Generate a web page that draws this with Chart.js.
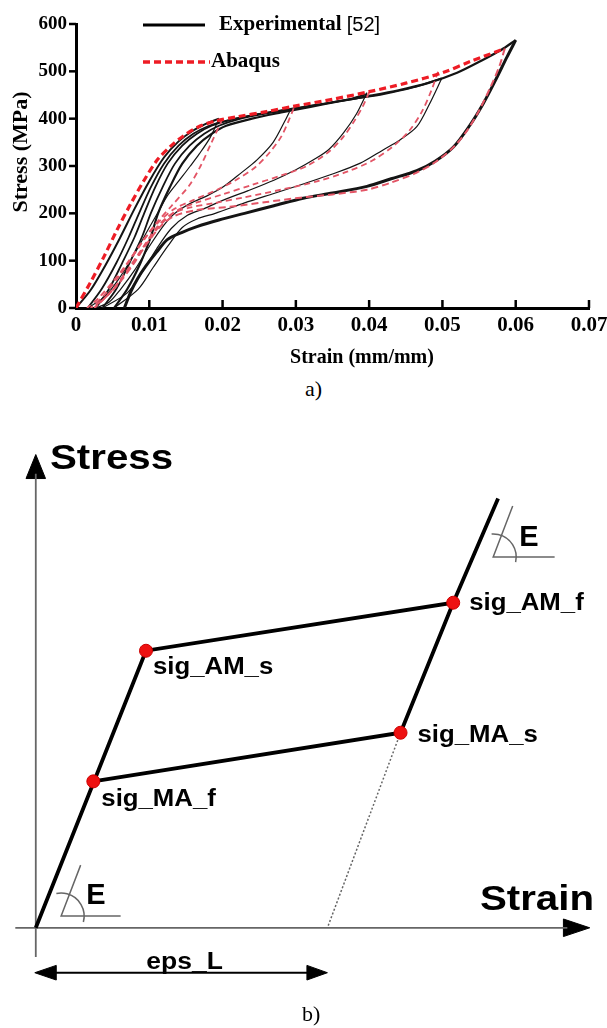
<!DOCTYPE html>
<html><head><meta charset="utf-8">
<script src="https://cdn.jsdelivr.net/npm/chart.js@4.4.0/dist/chart.umd.min.js"></script>
<style>
html,body{margin:0;padding:0;background:#fff;width:607px;height:1028px;overflow:hidden;position:relative}
#ca{position:absolute;left:0;top:0}
#cb{position:absolute;left:0;top:400px}
.cap{position:absolute;font-family:'Liberation Serif','Times New Roman',serif;font-size:22px;color:#000;line-height:22px}
</style></head><body>
<canvas id="ca" width="620" height="375"></canvas>
<div class="cap" style="left:305px;top:378px">a)</div>
<canvas id="cb" width="607" height="628"></canvas>
<div class="cap" style="left:302px;top:1003px">b)</div>
<script>
// ---------- Panel a data (strain mm/mm, stress MPa) ----------
const xTicks = [0, 0.01, 0.02, 0.03, 0.04, 0.05, 0.06, 0.07];
const xTickLabels = ['0', '0.01', '0.02', '0.03', '0.04', '0.05', '0.06', '0.07'];
const yTicks = [0, 100, 200, 300, 400, 500, 600];
const yTickLabels = ['0', '100', '200', '300', '400', '500', '600'];
const xTitle = 'Strain (mm/mm)';
const yTitle = 'Stress (MPa)';
const seriesNames = ['Experimental [52]', 'Abaqus'];

// Experimental (black) curves
const expLoad1 = [[0,0],[0.002,38],[0.004,90],[0.006,148],[0.008,210],[0.010,268],[0.012,318],[0.014,352],[0.016,375],[0.018,391],[0.0195,400]];
const expUnload1 = [[0.0195,400],[0.0183,360],[0.0168,325],[0.0156,300],[0.014,268],[0.0125,238],[0.0113,205],[0.010,170],[0.008,115],[0.006,65],[0.004,25],[0.0016,0]];
const expReload2 = [[0.0016,0],[0.0035,40],[0.0055,95],[0.0072,150],[0.0086,200],[0.0102,255],[0.012,305],[0.014,343],[0.016,368],[0.018,384],[0.020,394],[0.023,404],[0.026,412],[0.0293,420]];
const expUnload2 = [[0.0293,420],[0.0285,395],[0.0269,350],[0.0247,313],[0.0225,285],[0.0201,256],[0.018,238],[0.0156,221],[0.0135,200],[0.012,175],[0.010,130],[0.008,80],[0.006,38],[0.0045,12],[0.0027,0]];
const expReload3 = [[0.0027,0],[0.0045,40],[0.0063,95],[0.008,150],[0.0093,200],[0.0108,255],[0.0125,305],[0.0145,343],[0.0165,368],[0.0185,385],[0.021,397],[0.025,410],[0.029,420],[0.033,430],[0.037,440],[0.0397,452]];
const expUnload3 = [[0.0397,455],[0.0383,411],[0.0365,370],[0.0345,335],[0.0324,313],[0.030,292],[0.027,270],[0.0235,248],[0.0201,228],[0.0175,210],[0.0152,196],[0.013,168],[0.011,125],[0.009,75],[0.007,32],[0.0036,0]];
const expReload4 = [[0.0036,0],[0.0055,40],[0.0073,95],[0.009,150],[0.0102,200],[0.0118,255],[0.0135,305],[0.0155,343],[0.0175,368],[0.0195,385],[0.022,398],[0.026,411],[0.030,421],[0.034,432],[0.038,442],[0.042,452],[0.046,466],[0.0499,485]];
const expUnload4 = [[0.0499,485],[0.0482,430],[0.0465,383],[0.0442,355],[0.0419,334],[0.0388,306],[0.035,283],[0.031,262],[0.027,242],[0.023,222],[0.019,200],[0.0165,188],[0.0145,170],[0.0125,130],[0.0105,85],[0.0085,40],[0.0052,0]];
const expReload5 = [[0.0052,0],[0.007,40],[0.0088,95],[0.0102,150],[0.0112,200],[0.0128,255],[0.0145,305],[0.0165,343],[0.0185,368],[0.0205,385],[0.024,400],[0.028,413],[0.032,425],[0.036,437],[0.040,448],[0.044,460],[0.048,475],[0.052,497],[0.0555,524],[0.058,545],[0.060,566]];
const expUnload5 = [[0.060,566],[0.0588,530],[0.0572,480],[0.0555,430],[0.0537,385],[0.0515,340],[0.049,310],[0.0465,290],[0.043,273],[0.0397,257],[0.035,243],[0.031,232],[0.027,216],[0.023,200],[0.0195,186],[0.0165,172],[0.0145,160],[0.0125,145],[0.011,118],[0.0095,88],[0.0084,62],[0.0075,35],[0.0066,0]];

// Abaqus (red dashed) curves
const abqLoad = [[0,0],[0.002,55],[0.0038,108],[0.0056,165],[0.0075,221],[0.0093,270],[0.0111,313],[0.013,343],[0.0147,364],[0.0166,382],[0.019,395],[0.022,404],[0.026,415],[0.030,427],[0.035,441],[0.040,457],[0.045,475],[0.050,497],[0.054,522],[0.0585,548]];
const abqUnload1 = [[0.020,400],[0.0185,350],[0.017,300],[0.0155,260],[0.013,215],[0.011,180],[0.009,140],[0.007,95],[0.005,55],[0.003,20],[0.0015,0]];
const abqUnload2 = [[0.0297,422],[0.0290,395],[0.0280,362],[0.0265,330],[0.0245,298],[0.022,272],[0.019,248],[0.016,228],[0.0135,210],[0.0115,185],[0.0098,155],[0.008,115],[0.006,70],[0.004,30],[0.002,0]];
const abqUnload3 = [[0.040,456],[0.0392,428],[0.0381,398],[0.0365,362],[0.0345,330],[0.0315,300],[0.028,280],[0.024,260],[0.020,240],[0.0165,223],[0.0138,206],[0.0118,180],[0.010,145],[0.008,100],[0.006,58],[0.004,22],[0.0025,0]];
const abqUnload4 = [[0.0494,499],[0.0485,460],[0.0472,415],[0.0455,375],[0.0433,342],[0.0405,312],[0.037,288],[0.033,268],[0.028,250],[0.023,234],[0.019,222],[0.0155,212],[0.013,198],[0.011,170],[0.009,125],[0.007,80],[0.005,38],[0.0025,0]];
const abqUnload5 = [[0.0585,548],[0.0578,512],[0.0566,468],[0.0551,420],[0.0535,378],[0.0517,343],[0.0492,310],[0.0465,286],[0.043,265],[0.0397,250],[0.035,240],[0.0306,233],[0.026,224],[0.021,214],[0.0165,207],[0.0135,195],[0.0115,172],[0.0095,132],[0.0078,92],[0.006,55],[0.004,22],[0.0022,0]];

// ---------- Panel b data (schematic strain %, stress MPa) ----------
const bLoadStrain = [0, 1.13, 4.28, 4.74];
const bLoadStress = [0, 473, 555, 733];
const bUnloadStrain = [4.28, 3.74, 0.59];
const bUnloadStress = [555, 333, 250];
const bRecoverStrain = [3.74, 2.99];
const bRecoverStress = [333, 0];
const criticalLabels = ['sig_MA_f', 'sig_AM_s', 'sig_MA_s', 'sig_AM_f'];
const criticalStrain = [0.59, 1.13, 3.74, 4.28];
const criticalStress = [250, 473, 333, 555];
const epsL = 2.99;
const bAxisTitles = ['Stress', 'Strain'];
const modulusLabel = 'E';
const epsLabel = 'eps_L';

const toXY = a => a.map(p => ({x: p[0], y: p[1]}));
const zipXY = (xs, ys) => xs.map((v, i) => ({x: v, y: ys[i]}));

// ---------- Panel a ----------
const SERIF = '"Liberation Serif","Times New Roman",serif';
const black = '#141414';
const redMain = '#ee1c25';
const redLight = '#e35566';
const blk = (d, w) => ({label: seriesNames[0], data: toXY(d), borderColor: black, borderWidth: w, showLine: true, pointRadius: 0, fill: false});
const red = (d, w, c, dash) => ({label: seriesNames[1], data: toXY(d), borderColor: c, borderWidth: w, borderDash: dash, showLine: true, pointRadius: 0, fill: false});

const dsA = [
  red(abqLoad, 3.2, redMain, [7, 4]),
  red(abqUnload1, 1.8, redLight, [6, 4]),
  red(abqUnload2, 1.8, redLight, [6, 4]),
  red(abqUnload3, 1.8, redLight, [6, 4]),
  red(abqUnload4, 1.8, redLight, [6, 4]),
  red(abqUnload5, 2.0, redLight, [7, 4]),
  blk(expLoad1, 2.0),
  blk(expUnload1, 1.2),
  blk(expReload2, 1.8),
  blk(expUnload2, 1.2),
  blk(expReload3, 1.8),
  blk(expUnload3, 1.2),
  blk(expReload4, 1.8),
  blk(expUnload4, 1.2),
  blk(expReload5, 2.2),
  blk(expUnload5, 3.0)
];

const decorA = {
  id: 'decorA',
  afterDraw(chart) {
    const {ctx, scales: {x, y}, chartArea: ca} = chart;
    ctx.save();
    ctx.strokeStyle = '#000';
    ctx.lineWidth = 2.5;
    xTicks.forEach(v => {
      if (v === 0) return;
      const px = x.getPixelForValue(v);
      ctx.beginPath(); ctx.moveTo(px, ca.bottom); ctx.lineTo(px, ca.bottom - 8); ctx.stroke();
    });
    yTicks.forEach(v => {
      const py = y.getPixelForValue(v);
      ctx.beginPath(); ctx.moveTo(ca.left, py); ctx.lineTo(ca.left - 7, py); ctx.stroke();
    });
    ctx.fillStyle = '#000';
    ctx.textAlign = 'center'; ctx.textBaseline = 'middle';
    ctx.font = 'bold 20px ' + SERIF;
    ctx.fillText(xTitle, 362, 358);
    ctx.save();
    ctx.translate(21, 152); ctx.rotate(-Math.PI / 2);
    ctx.font = 'bold 22px ' + SERIF;
    ctx.fillText(yTitle, 0, 0);
    ctx.restore();
    // legend
    ctx.lineWidth = 3; ctx.strokeStyle = '#000';
    ctx.beginPath(); ctx.moveTo(143, 25); ctx.lineTo(205, 25); ctx.stroke();
    ctx.strokeStyle = redMain; ctx.lineWidth = 3.5; ctx.setLineDash([7, 4]);
    ctx.beginPath(); ctx.moveTo(143, 62); ctx.lineTo(210, 62); ctx.stroke();
    ctx.setLineDash([]);
    ctx.textAlign = 'left';
    const parts = seriesNames[0].split(' [');
    ctx.font = 'bold 21px ' + SERIF;
    ctx.fillText(parts[0], 219, 25);
    const w = ctx.measureText(parts[0] + ' ').width;
    ctx.font = '20px "Liberation Sans",Arial,sans-serif';
    ctx.fillText('[' + parts[1], 219 + w, 25);
    ctx.font = 'bold 21px ' + SERIF;
    ctx.fillText(seriesNames[1], 211, 62);
    ctx.restore();
  }
};

new Chart(document.getElementById('ca'), {
  type: 'scatter',
  data: {datasets: dsA},
  options: {
    responsive: false, animation: false, devicePixelRatio: 1,
    layout: {padding: {left: 0, right: 31, top: 24, bottom: 0}},
    plugins: {legend: {display: false}, tooltip: {enabled: false}},
    elements: {line: {tension: 0.3}, point: {radius: 0}},
    scales: {
      x: {
        type: 'linear', min: 0, max: 0.07,
        afterBuildTicks: s => { s.ticks = xTicks.map(v => ({value: v})); },
        afterFit: s => { s.height = 67; },
        ticks: {callback: (v, i) => xTickLabels[i], font: {family: SERIF, size: 21, weight: 'bold'}, color: '#000', padding: 5, maxRotation: 0, autoSkip: false},
        grid: {display: false, drawTicks: false},
        border: {display: true, width: 3, color: '#000'}
      },
      y: {
        type: 'linear', min: 0, max: 600,
        afterBuildTicks: s => { s.ticks = yTicks.map(v => ({value: v})); },
        afterFit: s => { s.width = 76; },
        ticks: {callback: (v, i) => yTickLabels[i], font: {family: SERIF, size: 19, weight: 'bold'}, color: '#000', padding: 9, autoSkip: false},
        grid: {display: false, drawTicks: false},
        border: {display: true, width: 3, color: '#000'}
      }
    }
  },
  plugins: [decorA]
});

// ---------- Panel b ----------
const SANS = '"Liberation Sans",Arial,Helvetica,sans-serif';
const gray = '#666';
const lineDs = (data, color, width, extra) => Object.assign({data, borderColor: color, borderWidth: width, showLine: true, pointRadius: 0, fill: false, tension: 0}, extra || {});
const triDs = (data, color) => ({data, borderColor: color, backgroundColor: color, borderWidth: 1, showLine: true, pointRadius: 0, fill: 'shape', tension: 0});

const yEps = -76.7;
const dsB = [
  {data: zipXY(criticalStrain, criticalStress), showLine: false, pointRadius: 6.5, pointBackgroundColor: '#ee1111', pointBorderColor: '#cc0000', pointBorderWidth: 1},
  lineDs(zipXY(bLoadStrain, bLoadStress), '#000', 3.8),
  lineDs(zipXY(bUnloadStrain, bUnloadStress), '#000', 3.8),
  lineDs(zipXY(bRecoverStrain, bRecoverStress), gray, 1.5, {borderDash: [2, 2]}),
  // axes
  lineDs([{x: -0.21, y: 0}, {x: 5.45, y: 0}], gray, 1.8),
  lineDs([{x: 0, y: -50}, {x: 0, y: 775}], gray, 1.8),
  triDs([{x: 5.41, y: 15}, {x: 5.68, y: 0}, {x: 5.41, y: -15}, {x: 5.41, y: 15}], '#000'),
  triDs([{x: -0.1, y: 767}, {x: 0, y: 808}, {x: 0.1, y: 767}, {x: -0.1, y: 767}], '#000'),
  // eps_L dimension arrow
  lineDs([{x: 0.1, y: yEps}, {x: 2.9, y: yEps}], '#000', 2),
  triDs([{x: 0.21, y: yEps + 12.5}, {x: -0.01, y: yEps}, {x: 0.21, y: yEps - 12.5}, {x: 0.21, y: yEps + 12.5}], '#000'),
  triDs([{x: 2.78, y: yEps + 12.5}, {x: 2.99, y: yEps}, {x: 2.78, y: yEps - 12.5}, {x: 2.78, y: yEps + 12.5}], '#000'),
  // modulus angle marks
  lineDs([{x: 4.89, y: 720}, {x: 4.69, y: 633}, {x: 5.32, y: 633}], gray, 1.5),
  lineDs([{x: 0.46, y: 107}, {x: 0.26, y: 20}, {x: 0.87, y: 20}], gray, 1.5)
];

function stretchText(ctx, text, x, y, font, align, sx, base) {
  ctx.save();
  ctx.font = font;
  ctx.textBaseline = base || 'alphabetic';
  const w = ctx.measureText(text).width * sx;
  let left = x;
  if (align === 'center') left = x - w / 2;
  if (align === 'right') left = x - w;
  ctx.translate(left, y);
  ctx.scale(sx, 1);
  ctx.textAlign = 'left';
  ctx.fillText(text, 0, 0);
  ctx.restore();
}

const decorB = {
  id: 'decorB',
  afterDatasetsDraw(chart) {
    const {ctx, scales: {x, y}} = chart;
    ctx.save();
    ctx.fillStyle = '#000';
    // angle arcs
    ctx.strokeStyle = gray; ctx.lineWidth = 1.5;
    const arcs = [[4.69, 633, 0.22, -1.64], [0.26, 20, 0.26, -1.78]];
    arcs.forEach(a => {
      const cx = x.getPixelForValue(a[0]), cy = y.getPixelForValue(a[1]);
      ctx.beginPath(); ctx.arc(cx, cy, 23, a[2], a[3], true); ctx.stroke();
    });
    // E labels
    ctx.font = 'bold 29px ' + SANS;
    ctx.textBaseline = 'alphabetic';
    ctx.textAlign = 'left';
    ctx.fillText(modulusLabel, x.getPixelForValue(4.69) + 26, y.getPixelForValue(633) - 11);
    ctx.fillText(modulusLabel, x.getPixelForValue(0.26) + 25, y.getPixelForValue(20) - 12);
    // axis titles
    stretchText(ctx, bAxisTitles[0], 50, 59, 'bold 35px ' + SANS, 'left', 1.15, 'middle');
    stretchText(ctx, bAxisTitles[1], 594, 500, 'bold 35px ' + SANS, 'right', 1.15, 'middle');
    // eps_L
    stretchText(ctx, epsLabel, x.getPixelForValue(epsL / 2) + 3, 569, 'bold 23px ' + SANS, 'center', 1.15);
    // critical point labels
    const offs = [[8, 25], [7, 23], [17, 9], [16, 7]];
    criticalLabels.forEach((t, i) => {
      const px = x.getPixelForValue(criticalStrain[i]) + offs[i][0];
      const py = y.getPixelForValue(criticalStress[i]) + offs[i][1];
      stretchText(ctx, t, px, py, 'bold 23px ' + SANS, 'left', 1.12);
    });
    ctx.restore();
  }
};

new Chart(document.getElementById('cb'), {
  type: 'scatter',
  data: {datasets: dsB},
  options: {
    responsive: false, animation: false, devicePixelRatio: 1,
    layout: {padding: 0},
    plugins: {legend: {display: false}, tooltip: {enabled: false}},
    scales: {
      x: {type: 'linear', min: -0.29, max: 5.78, display: false},
      y: {type: 'linear', min: -158.3, max: 888.3, display: false}
    }
  },
  plugins: [decorB]
});
</script>
</body></html>
